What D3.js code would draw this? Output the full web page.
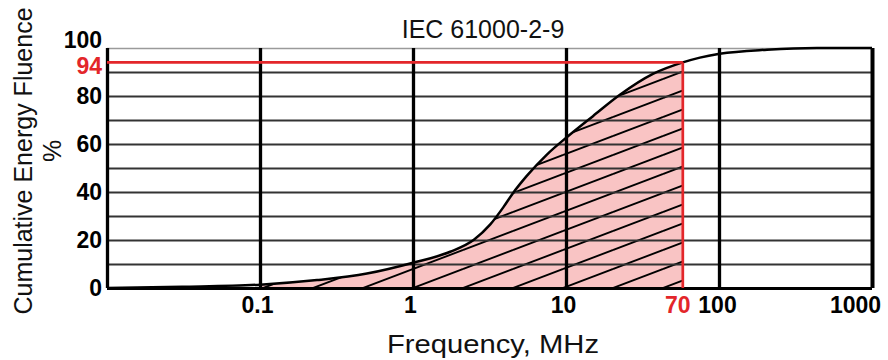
<!DOCTYPE html>
<html>
<head>
<meta charset="utf-8">
<script src="https://cdn.jsdelivr.net/npm/d3@7"></script>
<style>
  body { margin: 0; background: #fff; }
  text { font-family: "Liberation Sans", Arial, sans-serif; }
</style>
</head>
<body>
<div id="chart"></div>
<script>
// cumulative energy fluence curve (IEC 61000-2-9)
const freqMHz    = [0.01, 0.031, 0.1, 0.236, 0.5, 1,    1.75, 2.5,  3.2,  3.9,  4.5,  5.56, 7.5,  10.2, 15,   22.5, 37,   58, 75, 101,  206,  437, 1000];
const fluencePct = [0,    0.5,   1.4, 3.3,   6.0, 10.5, 15.1, 20.1, 26.5, 33.7, 39.5, 46.8, 55.6, 63,   71.6, 80.5, 89.2, 94, 96, 97.6, 99.3, 100, 100];

const xTickValues = [0.1, 1, 10, 100, 1000];
const yGridValues = [0, 10, 20, 30, 40, 50, 60, 70, 80, 90, 100];
const yLabelValues = [0, 20, 40, 60, 80, 100];

// red marker: 94 % reached at the "70 MHz" mark (drawn where the figure draws it)
const markPct = 94;
const markMHz = 58;
const markLabel = "70";
const shadeFromMHz = 0.1;

const data = freqMHz.map((f, i) => ({ f, p: fluencePct[i] }));

const W = 888, H = 360;
const margin = { top: 48, right: 16, bottom: 72, left: 107 };
const width = W - margin.left - margin.right;
const height = H - margin.top - margin.bottom;

const svg = d3.select('#chart').append('svg')
  .attr('width', W)
  .attr('height', H)
  .attr('viewBox', `0 0 ${W} ${H}`);

const g = svg.append('g')
  .attr('transform', `translate(${margin.left},${margin.top})`);

// Scales
const x = d3.scaleLog().domain([0.01, 1000]).range([0, width]);
const y = d3.scaleLinear().domain([0, 100]).range([height, 0]);

// Hatch pattern for the shaded area
const hatchW = 50, hatchH = 19;
const pat = svg.append('defs').append('pattern')
  .attr('id', 'hatch')
  .attr('patternUnits', 'userSpaceOnUse')
  .attr('width', hatchW)
  .attr('height', hatchH)
  .attr('x', x(1))
  .attr('y', height - hatchH);
pat.selectAll('line')
  .data([-hatchH, 0, hatchH])
  .join('line')
  .attr('x1', 0).attr('y1', d => hatchH + d)
  .attr('x2', hatchW).attr('y2', d => d)
  .attr('stroke', '#000')
  .attr('stroke-width', 1.9);

// Shaded area under the curve, up to the marker
const shaded = data.filter(d => d.f >= shadeFromMHz && d.f <= markMHz);
const area = d3.area()
  .x(d => x(d.f))
  .y0(y(0))
  .y1(d => y(d.p))
  .curve(d3.curveMonotoneX);

g.append('path').datum(shaded).attr('d', area).attr('fill', '#f9c4c4');
g.append('path').datum(shaded).attr('d', area).attr('fill', 'url(#hatch)');

// Horizontal grid
const yGrid = g.append('g')
  .call(d3.axisLeft(y).tickValues(yGridValues).tickSize(-width).tickFormat(''));
yGrid.select('.domain').remove();
yGrid.selectAll('.tick line')
  .attr('stroke', d => d === 100 ? '#9a9a9a' : (d === 0 ? '#000' : '#333'))
  .attr('stroke-width', d => d === 100 ? 1.5 : (d === 0 ? 2.8 : 1.9));

// Vertical decade lines (incl. left border)
const xGrid = g.append('g')
  .attr('transform', `translate(0,${height})`)
  .call(d3.axisBottom(x).tickValues([x.domain()[0], ...xTickValues]).tickSize(-height).tickFormat(''));
xGrid.select('.domain').remove();
xGrid.selectAll('.tick line')
  .attr('stroke', '#000')
  .attr('stroke-width', d => d === 1000 ? 4 : 3.3);

// Curve
const line = d3.line()
  .x(d => x(d.f))
  .y(d => y(d.p))
  .curve(d3.curveMonotoneX);
g.append('path')
  .datum(data)
  .attr('d', line)
  .attr('fill', 'none')
  .attr('stroke', '#000')
  .attr('stroke-width', 2.5);

// Red marker lines
const red = '#e3262a';
g.append('line')
  .attr('x1', x(x.domain()[0])).attr('x2', x(markMHz))
  .attr('y1', y(markPct)).attr('y2', y(markPct))
  .attr('stroke', red).attr('stroke-width', 2.7);
g.append('line')
  .attr('x1', x(markMHz)).attr('x2', x(markMHz))
  .attr('y1', y(markPct)).attr('y2', y(0))
  .attr('stroke', red).attr('stroke-width', 2.7);

// Y labels
const yAxis = g.append('g')
  .call(d3.axisLeft(y).tickValues(yLabelValues).tickSize(0).tickPadding(5));
yAxis.select('.domain').remove();
yAxis.selectAll('text')
  .style('font-size', '23px')
  .style('font-weight', 'bold')
  .attr('fill', '#000')
  .attr('dy', d => d === 100 ? '-0.03em' : '0.32em');

g.append('text')
  .attr('x', -5)
  .attr('y', y(markPct) + 4)
  .attr('dy', '0.32em')
  .attr('text-anchor', 'end')
  .attr('fill', red)
  .style('font-size', '23px')
  .style('font-weight', 'bold')
  .text(markPct);

// X labels
const xAxis = g.append('g')
  .attr('transform', `translate(0,${height})`)
  .call(d3.axisBottom(x).tickValues(xTickValues).tickSize(0).tickPadding(9).tickFormat(d3.format('~g')));
xAxis.select('.domain').remove();
xAxis.selectAll('text')
  .style('font-size', '23px')
  .style('font-weight', 'bold')
  .attr('fill', '#000')
  .attr('x', d => d === 1000 ? -17 : (d === 100 ? -2 : -3));

xAxis.append('text')
  .attr('x', x(markMHz) - 5)
  .attr('y', 9)
  .attr('dy', '0.71em')
  .attr('text-anchor', 'middle')
  .attr('fill', red)
  .style('font-size', '23px')
  .style('font-weight', 'bold')
  .text(markLabel);

// Titles
svg.append('text')
  .attr('x', 483)
  .attr('y', 38)
  .attr('text-anchor', 'middle')
  .style('font-size', '25px')
  .attr('fill', '#111')
  .text('IEC 61000-2-9');

svg.append('text')
  .attr('x', 493)
  .attr('y', 353)
  .attr('text-anchor', 'middle')
  .style('font-size', '26px')
  .attr('textLength', 212)
  .attr('lengthAdjust', 'spacingAndGlyphs')
  .attr('fill', '#111')
  .text('Frequency, MHz');

svg.append('text')
  .attr('transform', 'translate(32,161) rotate(-90)')
  .attr('text-anchor', 'middle')
  .style('font-size', '25px')
  .attr('fill', '#111')
  .text('Cumulative Energy Fluence');

svg.append('text')
  .attr('transform', 'translate(61,151) rotate(-90)')
  .attr('text-anchor', 'middle')
  .style('font-size', '25px')
  .attr('fill', '#111')
  .text('%');
</script>
</body>
</html>
